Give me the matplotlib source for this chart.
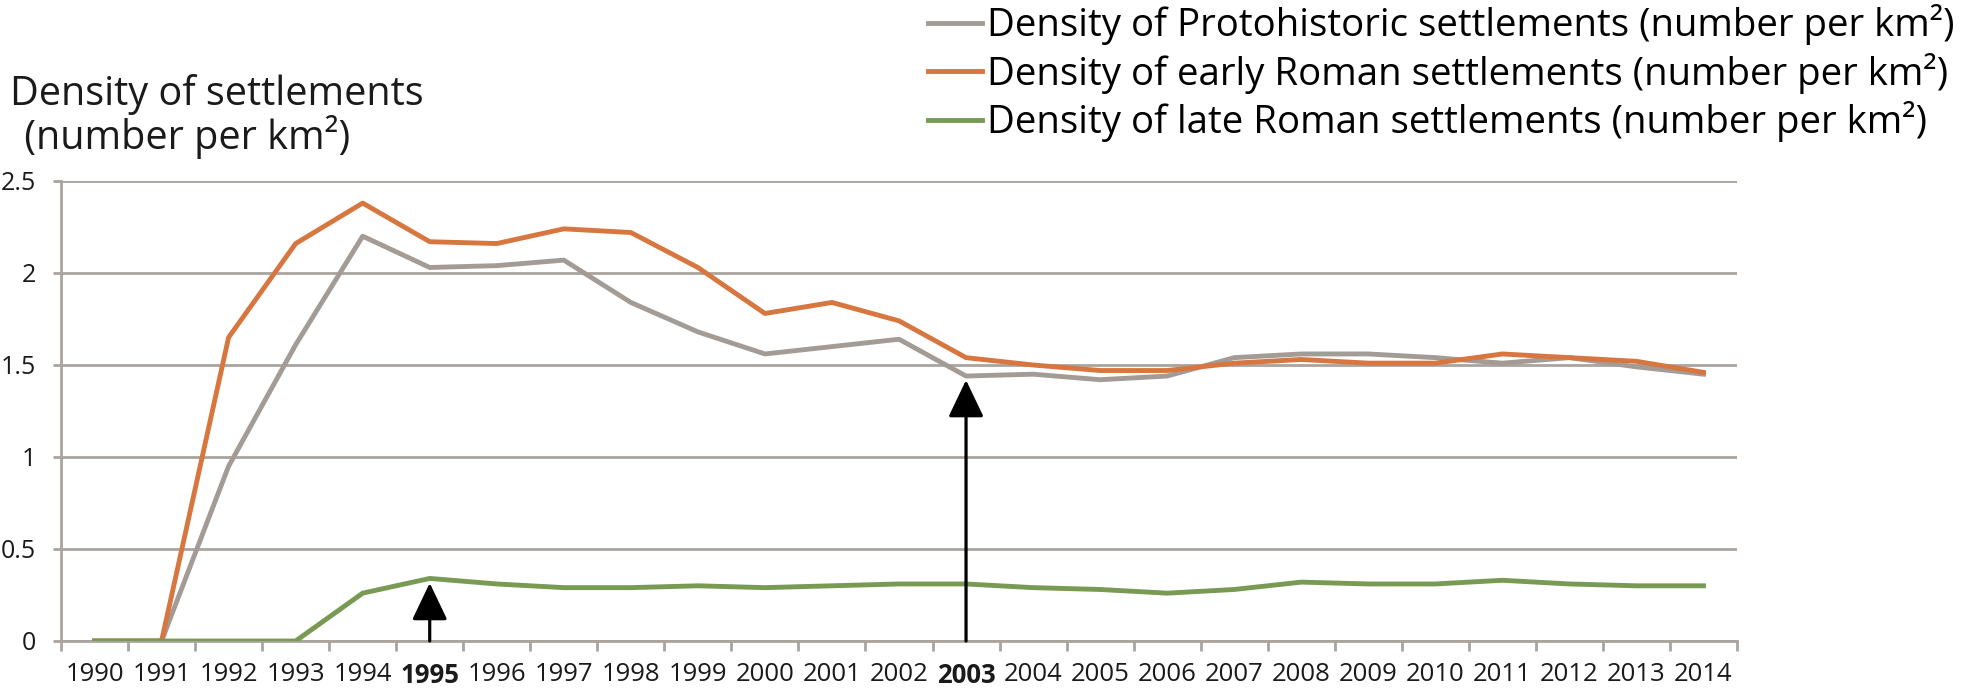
import matplotlib
matplotlib.use('Agg')
import matplotlib.pyplot as plt
import numpy as np

plt.rcParams['font.family'] = ['Open Sans', 'DejaVu Sans']

# data
years = ['1990', '1991', '1992', '1993', '1994', '1995', '1996', '1997', '1998', '1999',
         '2000', '2001', '2002', '2003', '2004', '2005', '2006', '2007', '2008', '2009',
         '2010', '2011', '2012', '2013', '2014']
protohistoric = [0, 0, 0.95, 1.61, 2.20, 2.03, 2.04, 2.07, 1.84, 1.68,
                 1.56, 1.60, 1.64, 1.44, 1.45, 1.42, 1.44, 1.54, 1.56, 1.56,
                 1.54, 1.51, 1.54, 1.49, 1.45]
early_roman = [0, 0, 1.65, 2.16, 2.38, 2.17, 2.16, 2.24, 2.22, 2.03,
               1.78, 1.84, 1.74, 1.54, 1.50, 1.47, 1.47, 1.51, 1.53, 1.51,
               1.51, 1.56, 1.54, 1.52, 1.46]
late_roman = [0, 0, 0, 0, 0.26, 0.34, 0.31, 0.29, 0.29, 0.30,
              0.29, 0.30, 0.31, 0.31, 0.29, 0.28, 0.26, 0.28, 0.32, 0.31,
              0.31, 0.33, 0.31, 0.30, 0.30]
series_names = ['Density of Protohistoric settlements (number per km\u00b2)',
                'Density of early Roman settlements (number per km\u00b2)',
                'Density of late Roman settlements (number per km\u00b2)']
series_colors = ['#a39b96', '#d7763f', '#789a52']
# arrows: year and value of the tip
arrow_years = ['1995', '2003']
arrow_tips = [0.315, 1.418]
bold_years = ['1995', '2003']

W, H = 1979, 691
fig = plt.figure(figsize=(W / 100, H / 100), dpi=100)
ax = fig.add_axes([61 / W, (H - 641) / H, (1737 - 61) / W, (641 - 181) / H])

x = np.arange(len(years))
grid_col = '#aaa49f'
for vals, col, name in zip([protohistoric, early_roman, late_roman], series_colors, series_names):
	ax.plot(x, vals, color=col, lw=3.5, label=name, zorder=3)

for yr, tip in zip(arrow_years, arrow_tips):
	i = years.index(yr)
	ax.annotate('', xy=(i, tip), xytext=(i, 0),
	            arrowprops=dict(arrowstyle='-|>,head_length=2.3,head_width=1.1', mutation_scale=10,
	                            color='black', lw=2.3, shrinkA=0, shrinkB=0), zorder=4)

ax.set_xlim(-0.5, len(years) - 0.5)
ax.set_ylim(0, 2.5)
ax.set_yticks(np.arange(0, 2.51, 0.5))
ax.set_yticklabels(['0', '0.5', '1', '1.5', '2', '2.5'])
ax.yaxis.grid(True, color=grid_col, lw=2)
ax.set_axisbelow(True)

ax.set_xticks(np.arange(-0.5, len(years), 1.0))
ax.set_xticklabels([])
ax.set_xticks(x, minor=True)
ax.set_xticklabels(years, minor=True)
ax.tick_params(axis='x', which='major', length=7.2, width=2, color=grid_col, direction='out')
ax.tick_params(axis='x', which='minor', length=0, pad=15, labelsize=18.5, labelcolor='#1a1a1a')
ax.tick_params(axis='y', length=5.8, width=2, color=grid_col, pad=12, labelsize=18, labelcolor='#1a1a1a')
for lab in ax.get_xticklabels(minor=True):
	if lab.get_text() in bold_years:
		lab.set_fontweight('bold')

for s in ['top', 'right']:
	ax.spines[s].set_visible(False)
for s in ['left', 'bottom']:
	ax.spines[s].set_color(grid_col)
	ax.spines[s].set_linewidth(2)

# axis title at top left
fig.text(10 / W, 1 - 105 / H, 'Density of settlements', fontsize=28.5, color='#1a1a1a',
         ha='left', va='baseline')
fig.text(14 / W, 1 - 149 / H, ' (number per km\u00b2)', fontsize=28.5, color='#1a1a1a',
         ha='left', va='baseline')

fig.legend(loc='upper left', bbox_to_anchor=(928 / W, 1 - 4 / H), frameon=False,
           fontsize=27.6, handlelength=1.4, handletextpad=0.15, labelspacing=0.2,
           borderpad=0, borderaxespad=0)

fig.savefig('out.png', dpi=100)
